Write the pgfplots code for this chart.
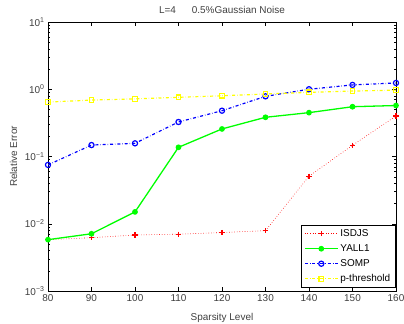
\documentclass[border=0pt]{standalone}
\usepackage{fontspec}
\setmainfont{Liberation Sans}
\usepackage{pgfplots}
\pgfplotsset{compat=1.18}
\definecolor{myred}{rgb}{1,0,0}
\definecolor{mygreen}{rgb}{0,1,0}
\definecolor{myblue}{rgb}{0,0,1}
\definecolor{myyellow}{rgb}{1,1,0}
\begin{document}
\begin{tikzpicture}
\begin{axis}[
  scale only axis,
  width=348bp, height=269bp,
  xmin=80, xmax=160, ymin=1e-3, ymax=10,
  ymode=log,
  xtick={80,90,...,160},
  ytick={1e-3,1e-2,1e-1,1,10},
  yticklabels={10\textsuperscript{−3},10\textsuperscript{−2},10\textsuperscript{−1},10\textsuperscript{0},10\textsuperscript{1}},
  /pgf/number format/assume math mode=true,
  tick label style={font=\fontsize{10}{12}\selectfont, text=black!75},
  label style={font=\fontsize{10}{12}\selectfont, text=black!75},
  title style={font=\fontsize{10}{12}\selectfont, text=black!75, yshift=-1pt},
  title={L=4\hspace{1.6em}0.5\%Gaussian Noise},
  xlabel={Sparsity Level},
  ylabel={Relative Error},
  xlabel style={yshift=-5pt},
  ylabel style={yshift=1pt},
  tick align=inside,
  major tick length=4pt,
  minor tick length=2pt,
  axis line style={line width=0.8pt},
  every tick/.style={black, line width=0.4pt},
  legend style={at={(1,0)}, anchor=south east, xshift=-0.5pt, yshift=3pt,
    font=\fontsize{10}{12}\selectfont, draw=black, line width=0.6pt,
    row sep=2.6pt, inner xsep=3pt, inner ysep=2.5pt},
  legend cell align=left,
  legend image code/.code={
    \draw[mark repeat=2,mark phase=2,#1] plot coordinates {(0cm,0cm) (0.58cm,0cm) (1.16cm,0cm)};},
]
\addplot[myred, dotted, line width=0.6pt, mark=+, mark options={solid, line width=1.2pt}, mark size=2.6pt]
  coordinates {(80,0.0058) (90,0.0062) (100,0.0068) (110,0.0070) (120,0.0074) (130,0.0079) (140,0.051) (150,0.147) (160,0.40)};
\addlegendentry{ISDJS}
\addplot[mygreen, solid, line width=1.3pt, mark=*, mark size=2.2pt]
  coordinates {(80,0.0058) (90,0.0071) (100,0.015) (110,0.137) (120,0.257) (130,0.383) (140,0.449) (150,0.55) (160,0.573)};
\addlegendentry{YALL1}
\addplot[myblue, dash dot, line width=1.2pt, mark=o, mark size=2.6pt, mark options={solid, line width=1.2pt}]
  coordinates {(80,0.075) (90,0.148) (100,0.157) (110,0.326) (120,0.48) (130,0.785) (140,1.0) (150,1.16) (160,1.24)};
\addlegendentry{SOMP}
\addplot[myyellow, dash dot, line width=1.2pt, mark=square, mark size=2.3pt, mark options={solid, line width=1.2pt}]
  coordinates {(80,0.645) (90,0.69) (100,0.72) (110,0.76) (120,0.80) (130,0.85) (140,0.90) (150,0.94) (160,0.97)};
\addlegendentry{p-threshold}
\end{axis}
\pgfresetboundingbox
\path (-48bp,-33bp) rectangle (356bp,291bp);
\end{tikzpicture}
\end{document}
